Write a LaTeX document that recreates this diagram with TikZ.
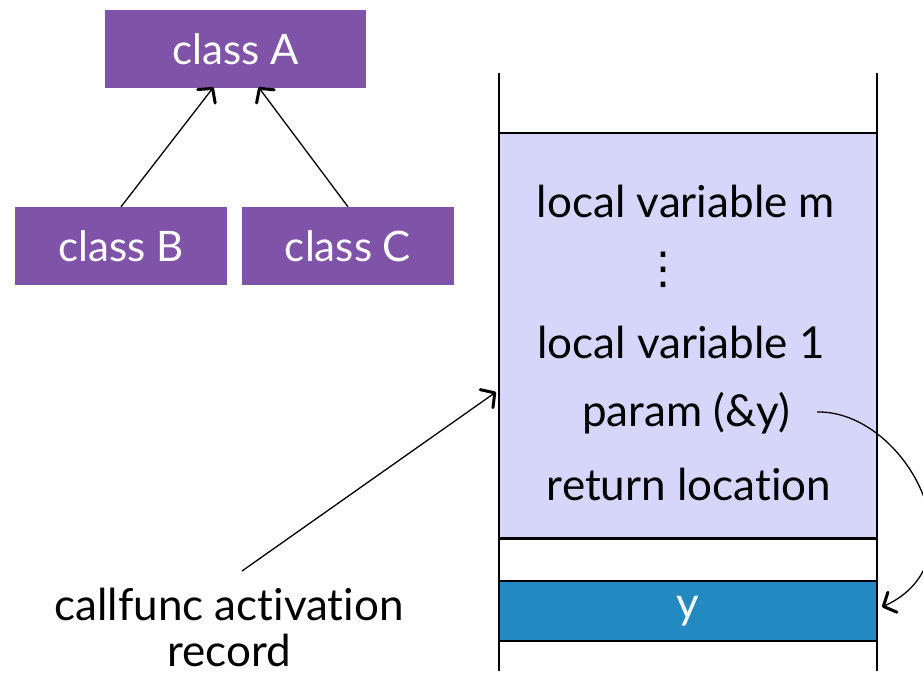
\documentclass[tikz,border=0pt]{standalone}
\usepackage{fontspec}
\setmainfont{Lato}[Ligatures={NoCommon,NoContextual}]
\newfontfamily\symfont{DejaVu Sans}
\usetikzlibrary{arrows.meta}
\definecolor{clspurple}{HTML}{7F53A8}
\definecolor{framelav}{HTML}{D6D6FB}
\definecolor{yblue}{HTML}{238AC1}
\tikzset{
  cls/.style={fill=clspurple, text=white, inner sep=0pt, font=\fontsize{42}{46}\selectfont},
  lbl/.style={inner sep=0pt, font=\fontsize{44}{48}\selectfont},
  conn/.style={line width=1.3pt, -{Straight Barb[length=10pt, width=22pt, line width=3pt, round]}},
  stackline/.style={line width=1.8pt}
}
\begin{document}
\begin{tikzpicture}[x=1pt,y=-1pt]
\useasboundingbox (0,0) rectangle (923,675);
% class boxes
\node[cls, minimum width=261pt, minimum height=78pt] (A) at (235.5,49) {class A};
\node[cls, minimum width=212pt, minimum height=78pt] (B) at (121,246) {class B};
\node[cls, minimum width=212pt, minimum height=78pt] (C) at (348,246) {class C};
\draw[conn] (B.north) -- ([xshift=-22pt,yshift=1pt]A.south);
\draw[conn] (C.north) -- ([xshift=23pt,yshift=1pt]A.south);
% stack
\node[fill=framelav, draw=black, line width=1.8pt, minimum width=378pt, minimum height=405pt, inner sep=0pt] (F) at (688,335.5) {};
\node[fill=yblue, draw=black, line width=1.8pt, minimum width=378pt, minimum height=60pt, inner sep=0pt, text=white, font=\fontsize{44}{48}\selectfont] (Y) at (688,611) {y};
\coordinate (LT) at (499,73);
\coordinate (LB) at (499,671);
\coordinate (RT) at (877,73);
\coordinate (RB) at (877,671);
\draw[stackline] (LT) -- (LB);
\draw[stackline] (RT) -- (RB);
\draw[stackline] (F.south west) -- (F.south east);
% frame contents
\node[lbl] (lm) at (686,201) {local variable m};
\node[inner sep=0pt, font=\symfont\fontsize{44}{48}\selectfont] (dots) at (663,270) {⋮};
\node[lbl] (l1) at (681,342) {local variable 1};
\node[lbl] (pa) at (686,413) {param (\&y)};
\node[lbl] (rl) at (689,484) {return location};
% caller label
\node[lbl, align=center, font=\fontsize{44}{46}\selectfont] (cr) at (229,627) {callfunc activation\\record};
\coordinate (cs) at (242,571);
\coordinate (ce) at (496,392);
\draw[conn] (cs) -- (ce);
% reference curve
\coordinate (ps) at (817,412);
\coordinate (ye) at (882,607);
\draw[conn] (ps) .. controls (905,410) and (985,560) .. (ye);
\end{tikzpicture}
\end{document}
